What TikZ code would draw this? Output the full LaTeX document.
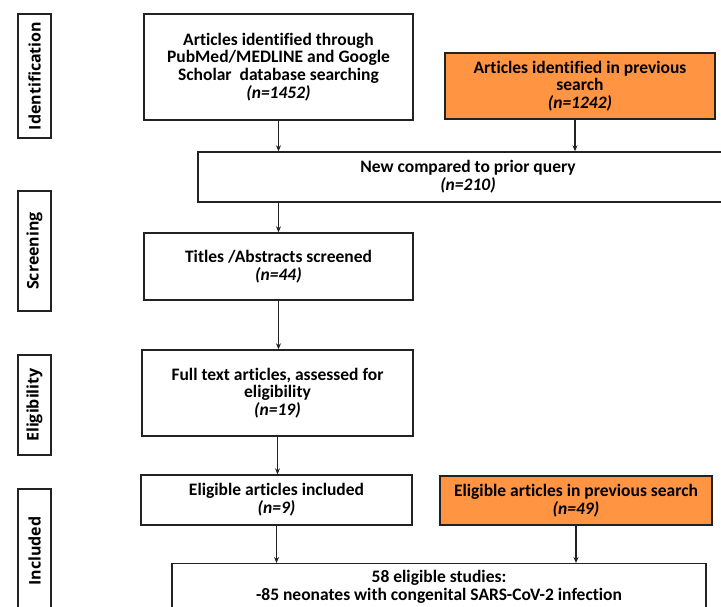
\documentclass[tikz,border=0pt]{standalone}
\usepackage{fontspec}
\setmainfont[Ligatures=NoCommon]{Carlito}
\newfontfamily\fuenteetapa{Open Sans}
\usepackage{xcolor}
\usepackage{tikz}
\usetikzlibrary{positioning, arrows.meta}
\definecolor{naranjacaja}{HTML}{FF9443}
\definecolor{bordecaja}{HTML}{222222}

\begin{document}
\begin{tikzpicture}[x=1pt, y=-1pt,
    every node/.style={font=\fontsize{17.5}{17.8}\selectfont\bfseries},
    caja/.style={draw=bordecaja, line width=1.4pt, align=center, inner sep=2pt},
    cajanaranja/.style={caja, fill=naranjacaja},
    etapa/.style={draw=bordecaja, line width=1.4pt, rotate=90, minimum height=33, inner sep=0pt,
        font=\fuenteetapa\fontsize{16}{16}\selectfont\bfseries},
    flecha/.style={-{Stealth[length=6pt, width=5pt]}, line width=1.3pt, color=bordecaja}
]
\clip (0,0) rectangle (721,607);

\node[etapa, minimum width=124] (identificacion) at (34.5,76) {Identification};
\node[etapa, minimum width=120] (seleccion) at (34.5,251) {Screening};
\node[etapa, minimum width=100] (elegibilidad) at (34.5,405) {Eligibility};
\node[etapa, minimum width=124] (incluido) at (34.5,551) {Included};

\node[caja, minimum width=269, minimum height=106] (busqueda) at (278.5,67)
    {Articles identified through\\PubMed/MEDLINE and Google\\Scholar\ \ database searching\\\textit{(n=1452)}};
\node[cajanaranja, minimum width=270, minimum height=66] (previa) at (580,86)
    {Articles identified in previous\\search\\\textit{(n=1242)}};
\node[caja, minimum width=540, minimum height=50] (nuevos) at (468,177)
    {New compared to prior query\\\textit{(n=210)}};
\node[caja, minimum width=269, minimum height=67] (cribado) at (278.5,266.5)
    {Titles /Abstracts screened\\\textit{(n=44)}};
\node[caja, minimum width=271, minimum height=86] (textocompleto) at (277.5,393)
    {Full text articles, assessed for\\eligibility\\\textit{(n=19)}};
\node[caja, minimum width=271, minimum height=50] (incluidos) at (276.5,500)
    {Eligible articles included\\\textit{(n=9)}};
\node[cajanaranja, minimum width=272, minimum height=49] (previos) at (576,500.5)
    {Eligible articles in previous search\\\textit{(n=49)}};
\node[caja, anchor=north, minimum width=534, inner ysep=7pt, text depth=60pt] (estudios) at (439,563)
    {58 eligible studies:\\-85 neonates with congenital SARS-CoV-2 infection};

\draw[flecha] (busqueda.south) -- (busqueda.south |- nuevos.north);
\draw[flecha] ([xshift=-5pt]previa.south) -- ([xshift=-5pt]previa.south |- nuevos.north);
\draw[flecha] (cribado.north |- nuevos.south) -- (cribado.north);
\draw[flecha] (cribado.south) -- (cribado.south |- textocompleto.north);
\draw[flecha] (textocompleto.south) -- (textocompleto.south |- incluidos.north);
\draw[flecha] (incluidos.south) -- (incluidos.south |- estudios.north);
\draw[flecha] (previos.south) -- (previos.south |- estudios.north);
\end{tikzpicture}
\end{document}
